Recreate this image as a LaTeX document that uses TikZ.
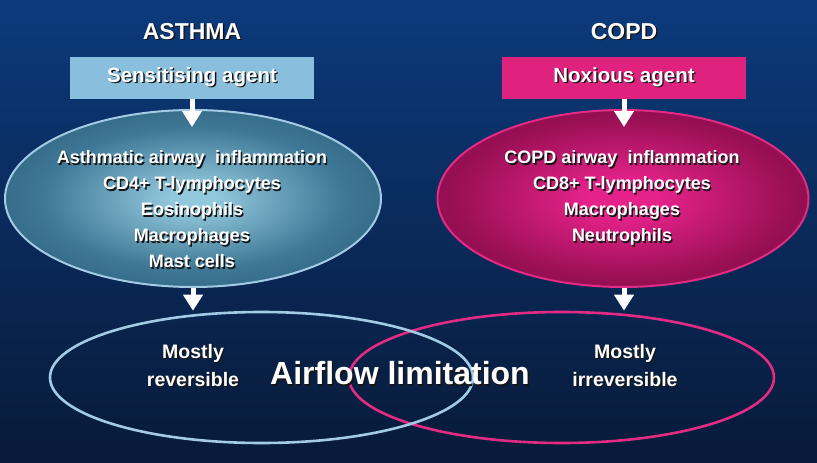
\documentclass[tikz,border=0pt]{standalone}
\usepackage{fontspec}
\setmainfont{Liberation Sans}
\usetikzlibrary{shapes.geometric,arrows.meta,shadings}

\definecolor{bgtop}{HTML}{0C3A7C}
\definecolor{bgmid}{HTML}{0B2E66}
\definecolor{bgbot}{HTML}{081A38}
\definecolor{asthbox}{HTML}{89BFDD}
\definecolor{copdbox}{HTML}{E0227F}
\definecolor{asthline}{HTML}{A3CBE5}
\definecolor{copdline}{HTML}{E22B84}
\definecolor{asthin}{HTML}{92C8DC}
\definecolor{asthmidc}{HTML}{3E7896}
\definecolor{asthout}{HTML}{1A405E}
\definecolor{copdin}{HTML}{E4228A}
\definecolor{copdmidc}{HTML}{9C1056}
\definecolor{copdout}{HTML}{56042F}
\definecolor{shadowc}{HTML}{151515}

\pgfdeclareradialshading{asthshade}{\pgfpoint{0bp}{0bp}}{color(0bp)=(asthin); color(3bp)=(asthin); color(20bp)=(asthmidc); color(46bp)=(asthout); color(50bp)=(asthout)}
\pgfdeclareradialshading{copdshade}{\pgfpoint{0bp}{0bp}}{color(0bp)=(copdin); color(5bp)=(copdin); color(22bp)=(copdmidc); color(46bp)=(copdout); color(50bp)=(copdout)}

\newcommand{\shd}[1]{\leavevmode\rlap{\kern1.4pt\raisebox{-1.4pt}{\color{shadowc}#1}}#1}

\tikzset{
  ttl/.style={text=white, font=\fontsize{23}{26}\selectfont\bfseries, inner sep=0pt},
  agentbox/.style={rectangle, minimum width=244pt, minimum height=42pt, inner sep=0pt,
     text=white, font=\fontsize{20.5}{24}\selectfont\bfseries},
  midell/.style={ellipse, inner sep=0pt, line width=2pt},
  botell/.style={ellipse, inner sep=0pt, line width=2.6pt, minimum height=131pt},
  celltxt/.style={text=white, align=center, inner sep=0pt,
     font=\fontsize{18}{26}\selectfont\bfseries},
  bottxt/.style={text=white, align=center, inner sep=0pt,
     font=\fontsize{19.5}{28}\selectfont\bfseries},
  bigtxt/.style={text=white, inner sep=0pt, font=\fontsize{32}{36}\selectfont\bfseries},
  arr/.style={white, line width=5pt, -{Triangle[width=19pt,length=16pt]}},
}

\begin{document}
\begin{tikzpicture}[x=1pt,y=-1pt]
\useasboundingbox (0,0) rectangle (817,463);
\shade[top color=bgtop, middle color=bgmid, bottom color=bgbot] (0,0) rectangle (817,463);

% titles
\node[ttl] (tA) at (192,32) {\shd{ASTHMA}};
\node[ttl] (tC) at (624,32) {\shd{COPD}};

% agent boxes
\node[agentbox, fill=asthbox] (boxL) at (192,77.5) {\raisebox{-1.5pt}{\shd{Sensitising agent}}};
\node[agentbox, fill=copdbox] (boxR) at (624,77.5) {\raisebox{-1.5pt}{\shd{Noxious agent}}};

% inflammation ellipses
\node[midell, shading=asthshade, draw=asthline, minimum width=376pt, minimum height=177pt] (midL) at (193,198.5) {};
\node[midell, shading=copdshade, draw=copdline, minimum width=371pt, minimum height=177pt] (midR) at (623,198.5) {};

\node[celltxt] (txL) at (192,210) {\shd{Asthmatic airway\ \ inflammation}\\ \shd{CD4+ T-lymphocytes}\\ \shd{Eosinophils}\\ \shd{Macrophages}\\ \shd{Mast cells}};
\node[celltxt] (txR) at (622,199) {\shd{COPD airway\ \ inflammation}\\ \shd{CD8+ T-lymphocytes}\\ \shd{Macrophages}\\ \shd{Neutrophils}};

% airflow limitation ellipses
\node[botell, draw=copdline, minimum width=425pt] (botR) at (561.5,377.5) {};
\node[botell, draw=asthline, minimum width=423pt] (botL) at (261.5,377.5) {};

\node[bottxt] (revL) at (193,366) {\shd{Mostly}\\ \shd{reversible}};
\node[bottxt] (revR) at (625,366) {\shd{Mostly}\\ \shd{irreversible}};
\node[bigtxt] (air) at (400,374) {\shd{Airflow limitation}};

% arrows
\draw[arr] (boxL.south) -- ([yshift=-18pt]boxL.south |- midL.north);
\draw[arr] (boxR.south) -- ([yshift=-18pt]boxR.south |- midR.north);
\draw[arr] (midL.south) -- (midL.south |- botL.north);
\draw[arr] ([xshift=1pt]midR.south) -- ([xshift=1pt]midR.south |- botR.north);
\end{tikzpicture}
\end{document}
